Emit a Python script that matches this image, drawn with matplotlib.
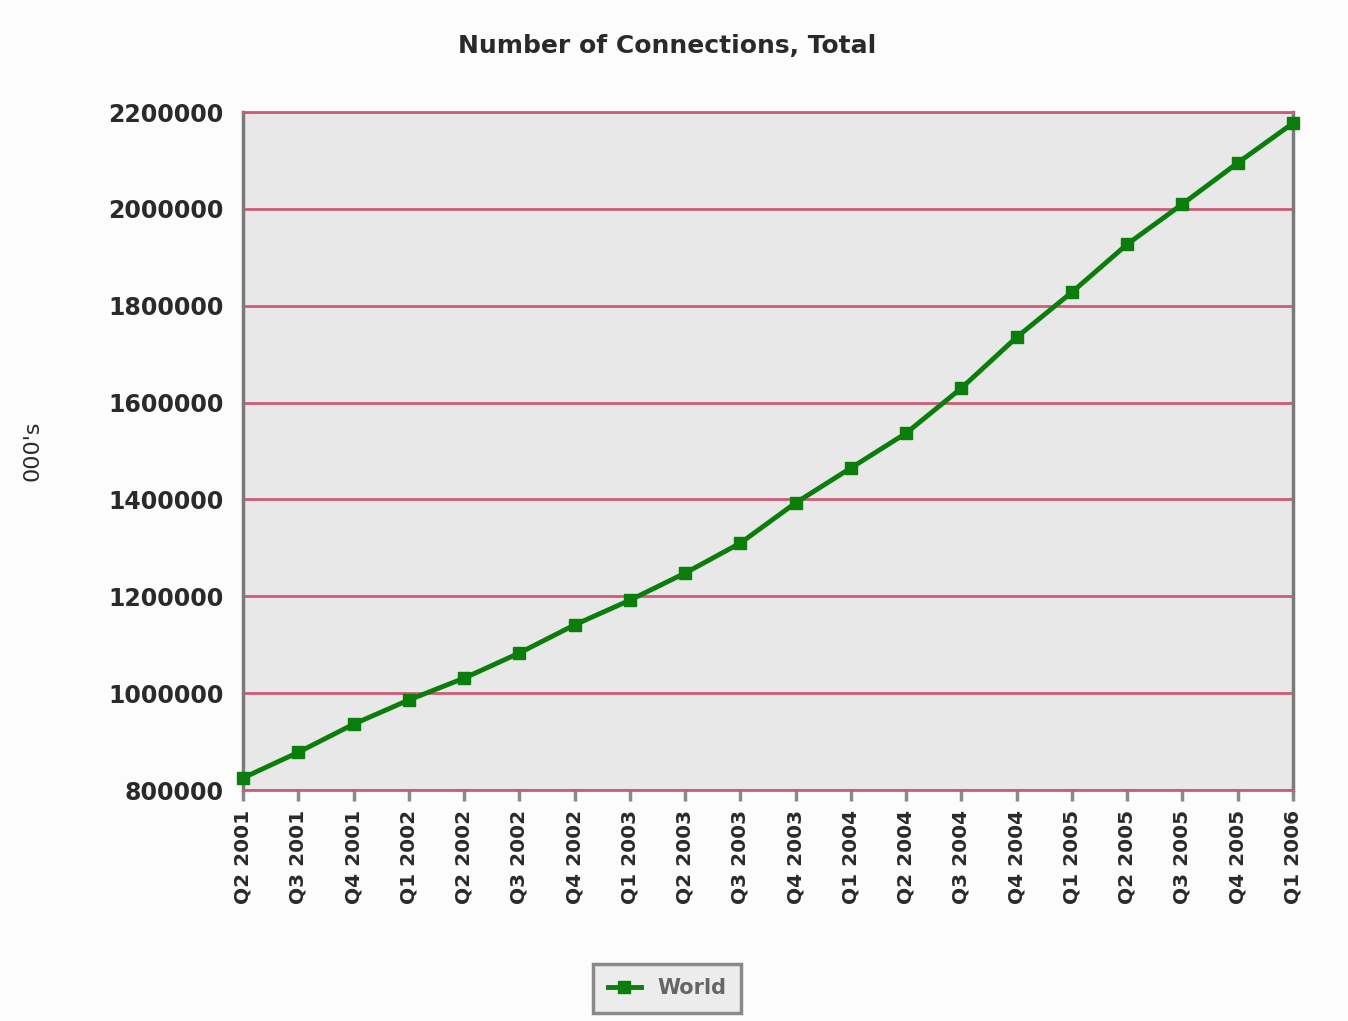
import matplotlib
matplotlib.use("Agg")
import matplotlib.pyplot as plt

# quarterly totals, thousands of connections
quarters = [
    "Q2 2001", "Q3 2001", "Q4 2001", "Q1 2002", "Q2 2002", "Q3 2002",
    "Q4 2002", "Q1 2003", "Q2 2003", "Q3 2003", "Q4 2003", "Q1 2004",
    "Q2 2004", "Q3 2004", "Q4 2004", "Q1 2005", "Q2 2005", "Q3 2005",
    "Q4 2005", "Q1 2006",
]
world = [
    825000, 878000, 936000, 986000, 1031000, 1083000,
    1141000, 1192000, 1248000, 1310000, 1393000, 1465000,
    1537000, 1630000, 1735000, 1828000, 1927000, 2010000,
    2095000, 2177000,
]
y_ticks = [800000, 1000000, 1200000, 1400000, 1600000, 1800000, 2000000, 2200000]

GREEN = "#0a7d0a"
GRID = "#cc5c76"
TEXT = "#2a2a2a"

fig = plt.figure(figsize=(13.48, 10.21), dpi=100)
fig.patch.set_facecolor("#fdfcfd")
ax = fig.add_axes([0.1803, 0.2262, 0.7789, 0.6641])
ax.set_facecolor("#e8e8e8")

x = list(range(len(quarters)))
ax.plot(x, world, color=GREEN, lw=3.5, marker="s", ms=9,
        mfc=GREEN, mec=GREEN, label="World", zorder=3, clip_on=False)

ax.set_xlim(0, len(quarters) - 1)
ax.set_ylim(y_ticks[0], y_ticks[-1])
ax.set_yticks(y_ticks)
ax.set_yticklabels([str(v) for v in y_ticks], fontsize=17,
                   fontweight="bold", color=TEXT)
ax.set_xticks(x)
ax.set_xticklabels(quarters, rotation=90, fontsize=14.5,
                   fontweight="bold", color=TEXT, va="top")
ax.grid(axis="y", color=GRID, lw=2)
ax.set_axisbelow(True)
ax.tick_params(axis="x", length=8, width=2.5, color="#8a8a8a", pad=6)
ax.tick_params(axis="y", length=0, pad=14)

for side in ["left", "right"]:
    ax.spines[side].set_color("#7a7a7a")
    ax.spines[side].set_linewidth(2.5)
for side in ["top", "bottom"]:
    ax.spines[side].set_color(GRID)
    ax.spines[side].set_linewidth(2)

ax.set_ylabel("000's", fontsize=16, color=TEXT)
ax.yaxis.set_label_coords(-0.191, 0.5)
fig.text(0.495, 0.955, "Number of Connections, Total", ha="center",
         va="center", fontsize=18, fontweight="bold", color=TEXT)

leg = fig.legend(loc="center", bbox_to_anchor=(0.495, 0.032),
                 fancybox=False, edgecolor="#8a8a8a", facecolor="#ececec",
                 framealpha=1, handlelength=1.6, borderpad=0.7,
                 prop={"size": 15, "weight": "bold"})
leg.get_frame().set_linewidth(2.5)
for t in leg.get_texts():
    t.set_color("#666666")

fig.savefig("out.png", dpi=100, facecolor=fig.get_facecolor())
